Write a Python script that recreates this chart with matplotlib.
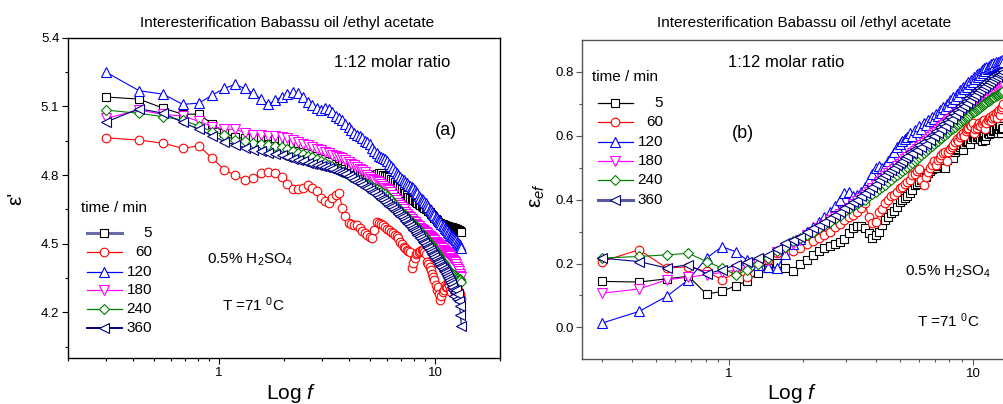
import matplotlib
matplotlib.use('Agg')
import matplotlib.pyplot as plt
from matplotlib.lines import Line2D
from matplotlib.ticker import FixedLocator, LogLocator, NullFormatter, FuncFormatter, FormatStrFormatter

plt.rcParams['font.family'] = ['Liberation Sans', 'DejaVu Sans']
plt.rcParams['mathtext.fontset'] = 'custom'
plt.rcParams['mathtext.rm'] = 'Liberation Sans'
plt.rcParams['mathtext.it'] = 'Liberation Sans:italic'
plt.rcParams['mathtext.bf'] = 'Liberation Sans:bold'

# ---------------- data ----------------
freq = [0.300, 0.427, 0.554, 0.681, 0.808, 0.935, 1.062, 1.189, 1.316, 1.443,
        1.570, 1.697, 1.824, 1.951, 2.078, 2.205, 2.332, 2.459, 2.586, 2.713,
        2.840, 2.967, 3.094, 3.221, 3.348, 3.475, 3.602, 3.729, 3.856, 3.983,
        4.110, 4.237, 4.364, 4.491, 4.618, 4.745, 4.872, 4.999, 5.126, 5.253,
        5.380, 5.507, 5.634, 5.761, 5.888, 6.015, 6.142, 6.269, 6.396, 6.523,
        6.650, 6.777, 6.904, 7.031, 7.158, 7.285, 7.412, 7.539, 7.666, 7.793,
        7.920, 8.047, 8.174, 8.301, 8.428, 8.555, 8.682, 8.809, 8.936, 9.063,
        9.190, 9.317, 9.444, 9.571, 9.698, 9.825, 9.952, 10.079, 10.206, 10.333,
        10.460, 10.587, 10.714, 10.841, 10.968, 11.095, 11.222, 11.349, 11.476, 11.603,
        11.730, 11.857, 11.984, 12.111, 12.238, 12.365, 12.492, 12.619, 12.746, 12.873,
        13.000, 13.127, 13.254]

times = ['5', '60', '120', '180', '240', '360']

# panel (a): epsilon'
eps_5 = [5.141, 5.132, 5.092, 5.066, 5.066, 5.023, 4.985, 4.965, 4.960, 4.966,
         4.968, 4.970, 4.962, 4.955, 4.948, 4.942, 4.938, 4.935, 4.930, 4.925,
         4.918, 4.910, 4.905, 4.897, 4.890, 4.882, 4.875, 4.868, 4.860, 4.850,
         4.843, 4.835, 4.826, 4.818, 4.812, 4.808, 4.805, 4.800, 4.797, 4.800,
         4.805, 4.808, 4.810, 4.800, 4.795, 4.795, 4.790, 4.785, 4.778, 4.770,
         4.762, 4.755, 4.748, 4.740, 4.730, 4.720, 4.712, 4.705, 4.700, 4.695,
         4.690, 4.685, 4.682, 4.678, 4.674, 4.670, 4.666, 4.662, 4.658, 4.654,
         4.650, 4.644, 4.638, 4.632, 4.626, 4.620, 4.614, 4.608, 4.602, 4.596,
         4.592, 4.590, 4.588, 4.585, 4.583, 4.580, 4.578, 4.577, 4.576, 4.575,
         4.574, 4.573, 4.572, 4.571, 4.570, 4.568, 4.566, 4.564, 4.562, 4.560,
         4.557, 4.555, 4.553]
eps_60 = [4.963, 4.953, 4.939, 4.917, 4.928, 4.873, 4.822, 4.800, 4.779, 4.787,
          4.808, 4.815, 4.808, 4.790, 4.762, 4.740, 4.738, 4.745, 4.755, 4.745,
          4.730, 4.700, 4.688, 4.677, 4.700, 4.713, 4.720, 4.655, 4.620, 4.590,
          4.585, 4.582, 4.580, 4.570, 4.555, 4.545, 4.538, 4.530, 4.524, 4.560,
          4.597, 4.590, 4.585, 4.580, 4.572, 4.565, 4.560, 4.552, 4.545, 4.540,
          4.535, 4.525, 4.510, 4.497, 4.487, 4.480, 4.475, 4.470, 4.466, 4.393,
          4.415, 4.440, 4.455, 4.460, 4.465, 4.470, 4.473, 4.473, 4.465, 4.455,
          4.420, 4.410, 4.400, 4.385, 4.370, 4.356, 4.340, 4.320, 4.300, 4.310,
          4.280, 4.255, 4.270, 4.290, 4.300, 4.320, 4.310, 4.313, 4.330, 4.320,
          4.300, 4.290, 4.310, 4.320, 4.300, 4.290, 4.280, 4.284, 4.300, 4.290,
          4.280, 4.270, 4.260]
eps_120 = [5.250, 5.169, 5.153, 5.109, 5.114, 5.150, 5.179, 5.196, 5.179, 5.157,
           5.132, 5.109, 5.128, 5.140, 5.152, 5.162, 5.160, 5.140, 5.120, 5.105,
           5.095, 5.085, 5.095, 5.090, 5.075, 5.060, 5.050, 5.040, 5.025, 5.010,
           4.995, 4.985, 4.975, 4.970, 4.960, 4.950, 4.945, 4.935, 4.920, 4.905,
           4.895, 4.885, 4.880, 4.875, 4.870, 4.862, 4.850, 4.840, 4.830, 4.820,
           4.810, 4.800, 4.790, 4.785, 4.777, 4.770, 4.765, 4.758, 4.752, 4.747,
           4.742, 4.735, 4.728, 4.720, 4.710, 4.700, 4.695, 4.690, 4.683, 4.676,
           4.670, 4.662, 4.654, 4.646, 4.638, 4.630, 4.624, 4.618, 4.612, 4.606,
           4.600, 4.594, 4.588, 4.582, 4.576, 4.570, 4.565, 4.560, 4.553, 4.547,
           4.540, 4.536, 4.532, 4.528, 4.524, 4.520, 4.515, 4.510, 4.505, 4.500,
           4.495, 4.488, 4.480]
eps_180 = [5.048, 5.084, 5.065, 5.058, 5.035, 5.012, 5.000, 5.000, 4.985, 4.975,
           4.975, 4.970, 4.970, 4.968, 4.960, 4.952, 4.944, 4.936, 4.930, 4.922,
           4.915, 4.908, 4.902, 4.895, 4.888, 4.882, 4.877, 4.873, 4.866, 4.858,
           4.850, 4.843, 4.836, 4.828, 4.822, 4.812, 4.800, 4.790, 4.785, 4.780,
           4.775, 4.768, 4.760, 4.752, 4.745, 4.740, 4.735, 4.725, 4.712, 4.700,
           4.690, 4.680, 4.670, 4.660, 4.650, 4.640, 4.630, 4.622, 4.615, 4.608,
           4.600, 4.594, 4.588, 4.582, 4.576, 4.570, 4.565, 4.560, 4.555, 4.550,
           4.545, 4.540, 4.535, 4.530, 4.525, 4.520, 4.515, 4.510, 4.505, 4.500,
           4.495, 4.490, 4.485, 4.480, 4.475, 4.470, 4.465, 4.460, 4.455, 4.450,
           4.445, 4.440, 4.435, 4.430, 4.425, 4.420, 4.410, 4.400, 4.390, 4.380,
           4.370, 4.360, 4.355]
eps_240 = [5.084, 5.070, 5.055, 5.040, 5.014, 4.990, 4.975, 4.955, 4.948, 4.942,
           4.937, 4.932, 4.927, 4.922, 4.912, 4.905, 4.898, 4.892, 4.885, 4.877,
           4.870, 4.862, 4.855, 4.845, 4.838, 4.830, 4.823, 4.815, 4.808, 4.800,
           4.793, 4.788, 4.782, 4.777, 4.772, 4.766, 4.760, 4.755, 4.750, 4.745,
           4.740, 4.735, 4.728, 4.722, 4.716, 4.710, 4.700, 4.690, 4.680, 4.670,
           4.660, 4.652, 4.645, 4.638, 4.632, 4.625, 4.617, 4.610, 4.602, 4.595,
           4.588, 4.580, 4.574, 4.567, 4.560, 4.553, 4.546, 4.539, 4.532, 4.525,
           4.518, 4.511, 4.504, 4.497, 4.490, 4.483, 4.476, 4.468, 4.460, 4.452,
           4.445, 4.437, 4.430, 4.422, 4.414, 4.406, 4.398, 4.390, 4.386, 4.382,
           4.378, 4.374, 4.370, 4.366, 4.362, 4.358, 4.355, 4.352, 4.350, 4.348,
           4.345, 4.340, 4.335]
eps_360 = [5.031, 5.090, 5.070, 5.030, 5.000, 4.972, 4.946, 4.933, 4.920, 4.910,
           4.905, 4.898, 4.893, 4.888, 4.880, 4.872, 4.865, 4.860, 4.855, 4.850,
           4.845, 4.840, 4.835, 4.830, 4.825, 4.820, 4.815, 4.810, 4.803, 4.795,
           4.787, 4.780, 4.772, 4.765, 4.757, 4.750, 4.742, 4.735, 4.727, 4.720,
           4.712, 4.705, 4.697, 4.690, 4.682, 4.675, 4.667, 4.660, 4.652, 4.645,
           4.637, 4.630, 4.622, 4.615, 4.607, 4.600, 4.592, 4.585, 4.577, 4.570,
           4.562, 4.555, 4.547, 4.540, 4.532, 4.525, 4.517, 4.510, 4.502, 4.495,
           4.487, 4.480, 4.472, 4.465, 4.457, 4.450, 4.442, 4.435, 4.427, 4.420,
           4.412, 4.405, 4.397, 4.390, 4.382, 4.375, 4.367, 4.360, 4.350, 4.342,
           4.335, 4.325, 4.310, 4.300, 4.270, 4.290, 4.300, 4.260, 4.280, 4.250,
           4.230, 4.190, 4.140]

# panel (b): epsilon_ef
ef_5 = [0.144, 0.142, 0.152, 0.160, 0.104, 0.113, 0.130, 0.146, 0.170, 0.186,
        0.201, 0.186, 0.178, 0.200, 0.212, 0.227, 0.240, 0.250, 0.256, 0.262,
        0.268, 0.278, 0.295, 0.310, 0.316, 0.318, 0.310, 0.295, 0.280, 0.290,
        0.300, 0.320, 0.336, 0.345, 0.357, 0.365, 0.378, 0.394, 0.400, 0.405,
        0.410, 0.420, 0.430, 0.446, 0.450, 0.455, 0.460, 0.477, 0.470, 0.485,
        0.490, 0.495, 0.500, 0.500, 0.505, 0.508, 0.515, 0.520, 0.500, 0.525,
        0.529, 0.535, 0.540, 0.530, 0.550, 0.555, 0.560, 0.565, 0.570, 0.555,
        0.575, 0.580, 0.581, 0.585, 0.575, 0.590, 0.595, 0.600, 0.590, 0.596,
        0.600, 0.605, 0.590, 0.585, 0.595, 0.600, 0.586, 0.600, 0.610, 0.605,
        0.615, 0.610, 0.620, 0.615, 0.617, 0.620, 0.625, 0.610, 0.620, 0.630,
        0.610, 0.620, 0.625]
ef_60 = [0.206, 0.243, 0.186, 0.190, 0.175, 0.149, 0.170, 0.158, 0.197, 0.212,
         0.232, 0.237, 0.240, 0.248, 0.262, 0.270, 0.280, 0.290, 0.300, 0.315,
         0.325, 0.335, 0.345, 0.352, 0.362, 0.375, 0.389, 0.347, 0.326, 0.330,
         0.360, 0.372, 0.390, 0.400, 0.410, 0.415, 0.425, 0.435, 0.440, 0.450,
         0.456, 0.460, 0.477, 0.480, 0.490, 0.495, 0.460, 0.446, 0.470, 0.487,
         0.500, 0.510, 0.520, 0.508, 0.525, 0.530, 0.540, 0.545, 0.550, 0.520,
         0.550, 0.560, 0.565, 0.570, 0.580, 0.590, 0.585, 0.595, 0.602, 0.610,
         0.600, 0.615, 0.620, 0.625, 0.633, 0.630, 0.640, 0.610, 0.620, 0.625,
         0.635, 0.640, 0.630, 0.640, 0.645, 0.650, 0.620, 0.640, 0.650, 0.655,
         0.660, 0.645, 0.655, 0.665, 0.660, 0.670, 0.655, 0.675, 0.680, 0.665,
         0.685, 0.690, 0.700]
ef_120 = [0.013, 0.050, 0.097, 0.149, 0.217, 0.253, 0.237, 0.210, 0.195, 0.190,
          0.185, 0.230, 0.262, 0.278, 0.298, 0.315, 0.330, 0.345, 0.360, 0.380,
          0.400, 0.420, 0.425, 0.410, 0.415, 0.425, 0.440, 0.460, 0.480, 0.500,
          0.505, 0.500, 0.505, 0.520, 0.535, 0.550, 0.565, 0.575, 0.585, 0.590,
          0.595, 0.608, 0.600, 0.618, 0.612, 0.630, 0.622, 0.640, 0.633, 0.648,
          0.645, 0.660, 0.652, 0.668, 0.662, 0.680, 0.672, 0.690, 0.684, 0.700,
          0.694, 0.712, 0.705, 0.722, 0.715, 0.732, 0.726, 0.742, 0.736, 0.752,
          0.745, 0.760, 0.752, 0.768, 0.762, 0.776, 0.770, 0.785, 0.778, 0.792,
          0.785, 0.798, 0.790, 0.805, 0.798, 0.812, 0.803, 0.815, 0.808, 0.820,
          0.812, 0.825, 0.815, 0.828, 0.818, 0.830, 0.822, 0.832, 0.825, 0.835,
          0.828, 0.838, 0.832]
ef_180 = [0.107, 0.120, 0.149, 0.157, 0.165, 0.172, 0.180, 0.190, 0.200, 0.210,
          0.235, 0.250, 0.260, 0.275, 0.290, 0.300, 0.310, 0.322, 0.335, 0.345,
          0.355, 0.365, 0.375, 0.385, 0.395, 0.405, 0.415, 0.425, 0.435, 0.445,
          0.455, 0.465, 0.474, 0.482, 0.490, 0.497, 0.505, 0.512, 0.519, 0.526,
          0.533, 0.540, 0.547, 0.553, 0.560, 0.566, 0.572, 0.578, 0.584, 0.590,
          0.596, 0.602, 0.608, 0.613, 0.618, 0.623, 0.628, 0.633, 0.638, 0.643,
          0.648, 0.652, 0.656, 0.660, 0.664, 0.668, 0.672, 0.676, 0.680, 0.684,
          0.687, 0.690, 0.693, 0.696, 0.699, 0.702, 0.705, 0.708, 0.711, 0.714,
          0.717, 0.720, 0.722, 0.724, 0.726, 0.728, 0.730, 0.732, 0.734, 0.736,
          0.738, 0.740, 0.742, 0.744, 0.746, 0.748, 0.750, 0.752, 0.754, 0.756,
          0.758, 0.760, 0.762]
ef_240 = [0.217, 0.222, 0.227, 0.232, 0.206, 0.186, 0.165, 0.180, 0.200, 0.217,
          0.240, 0.253, 0.269, 0.280, 0.290, 0.300, 0.310, 0.320, 0.330, 0.340,
          0.350, 0.360, 0.370, 0.380, 0.387, 0.395, 0.400, 0.410, 0.418, 0.425,
          0.432, 0.440, 0.447, 0.455, 0.462, 0.470, 0.477, 0.484, 0.490, 0.497,
          0.503, 0.510, 0.516, 0.522, 0.528, 0.534, 0.540, 0.546, 0.552, 0.558,
          0.564, 0.569, 0.574, 0.579, 0.584, 0.589, 0.594, 0.599, 0.604, 0.608,
          0.613, 0.617, 0.621, 0.625, 0.629, 0.633, 0.637, 0.641, 0.645, 0.649,
          0.652, 0.656, 0.660, 0.663, 0.666, 0.670, 0.673, 0.676, 0.679, 0.682,
          0.685, 0.688, 0.691, 0.694, 0.697, 0.700, 0.703, 0.706, 0.708, 0.710,
          0.713, 0.715, 0.718, 0.720, 0.722, 0.725, 0.727, 0.729, 0.731, 0.733,
          0.735, 0.737, 0.740]
ef_360 = [0.217, 0.206, 0.186, 0.196, 0.168, 0.180, 0.196, 0.206, 0.217, 0.227,
          0.245, 0.264, 0.274, 0.284, 0.300, 0.310, 0.320, 0.330, 0.342, 0.352,
          0.362, 0.373, 0.383, 0.393, 0.400, 0.410, 0.420, 0.430, 0.440, 0.450,
          0.460, 0.470, 0.478, 0.486, 0.494, 0.500, 0.508, 0.515, 0.522, 0.530,
          0.536, 0.548, 0.545, 0.560, 0.556, 0.572, 0.565, 0.580, 0.575, 0.592,
          0.588, 0.604, 0.598, 0.615, 0.610, 0.626, 0.620, 0.638, 0.632, 0.648,
          0.642, 0.660, 0.652, 0.670, 0.664, 0.682, 0.675, 0.692, 0.686, 0.700,
          0.694, 0.710, 0.704, 0.718, 0.712, 0.726, 0.720, 0.735, 0.728, 0.742,
          0.736, 0.750, 0.742, 0.756, 0.750, 0.762, 0.755, 0.768, 0.762, 0.775,
          0.768, 0.780, 0.774, 0.786, 0.780, 0.792, 0.785, 0.796, 0.790, 0.800,
          0.795, 0.806, 0.800]

eps_series = [eps_5, eps_60, eps_120, eps_180, eps_240, eps_360]
ef_series = [ef_5, ef_60, ef_120, ef_180, ef_240, ef_360]

colors = ['#000000', '#ff0000', '#0000ff', '#ff00ff', '#008000', '#000080']
markers = ['s', 'o', '^', 'v', 'D', '<']
msizes = [5.6, 6.2, 6.6, 6.6, 5.4, 6.6]

title = 'Interesterification Babassu oil /ethyl acetate'

# ---------------- figure ----------------
W, H = 1004, 404
fig = plt.figure(figsize=(W / 100, H / 100), dpi=100)


def fx(px):
    return px / W


def fy(py):
    return 1 - py / H


ax1 = fig.add_axes([fx(67.7), fy(358.3), (500 - 67.7) / W, (358.3 - 37.7) / H])
ax2 = fig.add_axes([fx(582.3), fy(359.3), (1046.5 - 582.3) / W, (359.3 - 40) / H])

for ax, series in ((ax1, eps_series), (ax2, ef_series)):
    for y, c, m, ms in zip(series, colors, markers, msizes):
        ax.plot(freq, y, color=c, lw=0.8, marker=m, ms=ms, mfc='white',
                mec=c, mew=0.8)
    ax.set_xscale('log')
    ax.xaxis.set_major_locator(FixedLocator([1, 10]))
    ax.xaxis.set_minor_locator(LogLocator(base=10, subs=range(2, 10)))
    ax.xaxis.set_major_formatter(FuncFormatter(lambda v, p: '%g' % v))
    ax.xaxis.set_minor_formatter(NullFormatter())
    ax.yaxis.set_major_formatter(FormatStrFormatter('%.1f'))
    ax.tick_params(which='both', direction='out', top=False, right=False,
                   labelsize=9.5, pad=2)
    ax.tick_params(which='major', length=4, width=0.8)
    ax.tick_params(which='minor', length=2.5, width=0.8)

ax1.set_xlim(0.2, 20)
ax1.set_ylim(4.0, 5.4)
ax1.yaxis.set_major_locator(FixedLocator([4.2, 4.5, 4.8, 5.1, 5.4]))
ax1.yaxis.set_minor_locator(FixedLocator([4.05, 4.35, 4.65, 4.95, 5.25]))
for s in ax1.spines.values():
    s.set_linewidth(1.0)
    s.set_color('black')

ax2.set_xlim(0.25, 20)
ax2.set_ylim(-0.1, 0.9)
ax2.yaxis.set_major_locator(FixedLocator([0.0, 0.2, 0.4, 0.6, 0.8]))
ax2.yaxis.set_minor_locator(FixedLocator([0.1, 0.3, 0.5, 0.7]))
gray = '#555555'
for s in ax2.spines.values():
    s.set_linewidth(1.0)
    s.set_color(gray)
ax2.tick_params(which='both', color=gray, labelcolor='black')

# titles / axis labels
fig.text(fx(140), fy(26.7), title, fontsize=11, ha='left', va='baseline')
fig.text(fx(656.7), fy(26.7), title, fontsize=11, ha='left', va='baseline')
fig.text(fx(291), fy(399), 'Log $f$', fontsize=15, ha='center', va='baseline')
fig.text(fx(792), fy(399), 'Log $f$', fontsize=15, ha='center', va='baseline')
fig.text(fx(16), fy(198), "ε'", fontsize=15, rotation=90, ha='center', va='center')
fig.text(fx(538), fy(196), r"ε$_{ef}$", fontsize=15, rotation=90, ha='center', va='center')

# annotations
fig.text(fx(334), fy(66.7), '1:12 molar ratio', fontsize=12, ha='left', va='baseline')
fig.text(fx(435), fy(135), '(a)', fontsize=13, ha='left', va='baseline')
fig.text(fx(207), fy(263.3), r'0.5% H$_2$SO$_4$', fontsize=11, ha='left', va='baseline')
fig.text(fx(222), fy(311), r'T =71 $^0$C', fontsize=11, ha='left', va='baseline')

fig.text(fx(728), fy(66.7), '1:12 molar ratio', fontsize=12, ha='left', va='baseline')
fig.text(fx(732), fy(138), '(b)', fontsize=13, ha='left', va='baseline')
fig.text(fx(905), fy(276), r'0.5% H$_2$SO$_4$', fontsize=11, ha='left', va='baseline')
fig.text(fx(917), fy(326.7), r'T =71 $^0$C', fontsize=11, ha='left', va='baseline')


# legends (drawn manually to mimic right-aligned labels)
def draw_legend(title_xy, x0, x1, xlab, rows, line_over):
    fig.text(fx(title_xy[0]), fy(title_xy[1]), 'time / min', fontsize=11,
             ha='left', va='center')
    xm = (x0 + x1) / 2
    for i, (lab, c, m, ms, ry) in enumerate(zip(times, colors, markers, msizes, rows)):
        lc, lw = line_over.get(i, (c, 0.9))
        fig.add_artist(Line2D([fx(x0), fx(x1)], [fy(ry), fy(ry)], color=lc, lw=lw))
        fig.add_artist(Line2D([fx(xm)], [fy(ry)], color=c, lw=0, marker=m, ms=ms,
                              mfc='white', mec=c, mew=0.8))
        fig.text(fx(xlab), fy(ry), lab, fontsize=11, ha='right', va='center')


draw_legend((81, 208), 87, 122, 152, [233.3, 251.7, 271.7, 290, 309.3, 328],
            {0: ('#6b6ba8', 2.2), 5: ('#000080', 1.4)})
draw_legend((592, 77), 598, 633, 663, [102.7, 122, 141.7, 161, 180, 199.5],
            {5: ('#5a5aa0', 2.2)})

fig.savefig('out.png', dpi=100)
